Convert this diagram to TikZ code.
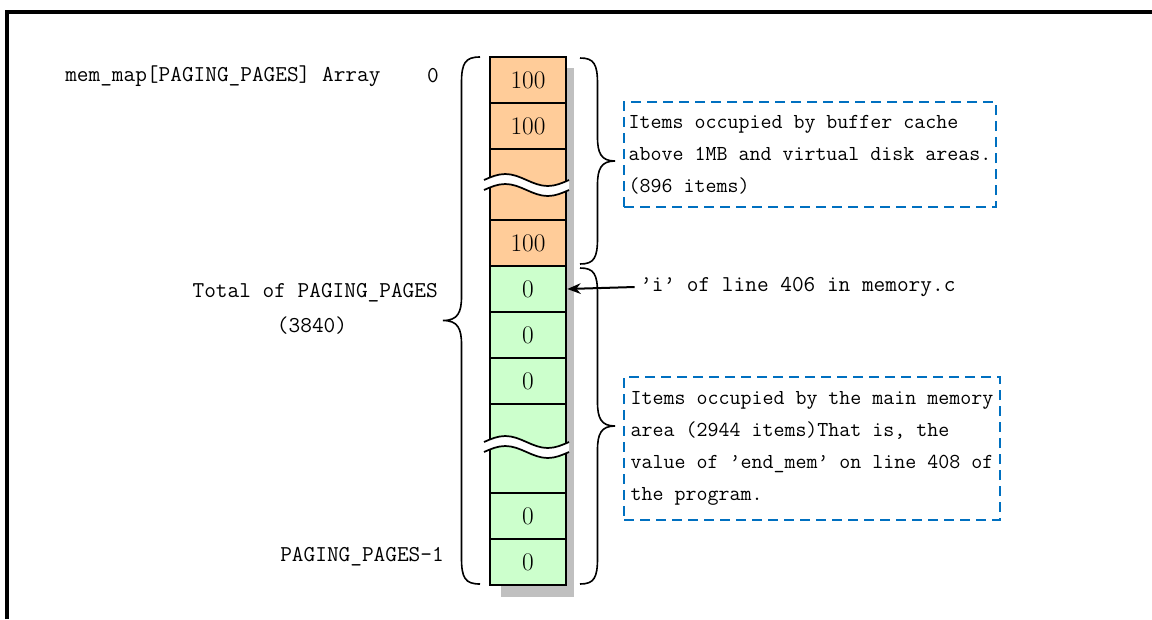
\documentclass[tikz,border=0pt]{standalone}
\usepackage{tikz}
\usepackage{xcolor}
\usetikzlibrary{arrows.meta}

\definecolor{cellorange}{HTML}{FFCC99}
\definecolor{cellgreen}{HTML}{CCFFCC}
\definecolor{boxblue}{HTML}{0070C0}
\definecolor{shadowgray}{HTML}{C0C0C0}

% curly brace: ends at x=#1, from y=#2 to y=#3, tip offset #4
\newcommand{\membrace}[4]{%
  \draw[line width=1.2pt] (#1,#2) .. controls ({#1+0.8*(#4)/2},#2) and ({#1+(#4)/2},{#2+6}) .. ({#1+(#4)/2},{#2+26})
    -- ({#1+(#4)/2},{(#2+#3)/2-24}) .. controls ({#1+(#4)/2},{(#2+#3)/2-8}) and ({#1+0.6*(#4)},{(#2+#3)/2}) .. ({#1+(#4)},{(#2+#3)/2})
    .. controls ({#1+0.6*(#4)},{(#2+#3)/2}) and ({#1+(#4)/2},{(#2+#3)/2+8}) .. ({#1+(#4)/2},{(#2+#3)/2+24})
    -- ({#1+(#4)/2},{#3-26}) .. controls ({#1+(#4)/2},{#3-6}) and ({#1+0.8*(#4)/2},#3) .. (#1,#3);}
% wavy break across the column, centred at y=#1
\newcommand{\cellbreak}[1]{%
  \fill[white] (484,{#1-5}) sin (505.25,{#1-11}) cos (526.5,{#1-5}) sin (547.75,{#1+1}) cos (569,{#1-5})
    -- (569,{#1+5}) sin (547.75,{#1+11}) cos (526.5,{#1+5}) sin (505.25,{#1-1}) cos (484,{#1+5}) -- cycle;
  \draw[line width=1.3pt] (484,{#1-5}) sin (505.25,{#1-11}) cos (526.5,{#1-5}) sin (547.75,{#1+1}) cos (569,{#1-5});
  \draw[line width=1.3pt] (484,{#1+5}) sin (505.25,{#1-1}) cos (526.5,{#1+5}) sin (547.75,{#1+11}) cos (569,{#1+5});}

\begin{document}
\begin{tikzpicture}[x=0.75pt,y=-0.75pt,
  cell/.style={draw,line width=1.4pt,minimum width=57pt,minimum height=34.5pt,inner sep=0pt,outer sep=0pt,anchor=north,font=\fontsize{19}{22}\selectfont},
  orangecell/.style={cell,fill=cellorange},
  greencell/.style={cell,fill=cellgreen},
  lbltext/.style={font=\ttfamily\fontsize{17}{24}\selectfont,inner sep=0pt},
  notebox/.style={draw=boxblue,line width=1.3pt,dash pattern=on 7.5pt off 4.5pt,align=left,inner sep=2.25pt,font=\ttfamily\fontsize{16}{24}\selectfont}]
  \useasboundingbox (0,0) rectangle (1152,619);
  % frame
  \draw[line width=2.4pt] (7,619) -- (7,12) -- (1152,12);
  % array column
  \fill[shadowgray] (501,68) rectangle (574,597);
  \node[orangecell] (o1) at (528,57) {100}; \node[orangecell] (o2) at (o1.south) {100};
  \node[orangecell,minimum height=53.25pt] (ob) at (o2.south) {}; \node[orangecell] (o3) at (ob.south) {100};
  \node[greencell] (g1) at (o3.south) {0}; \node[greencell] (g2) at (g1.south) {0}; \node[greencell] (g3) at (g2.south) {0};
  \node[greencell,minimum height=66.75pt] (gb) at (g3.south) {};
  \node[greencell] (g4) at (gb.south) {0}; \node[greencell] (g5) at (g4.south) {0};
  \cellbreak{185} \cellbreak{447}
  % braces
  \membrace{480}{57}{584}{-37}
  \membrace{580}{58}{264}{35}
  \membrace{580}{268}{584}{35}
  % left labels
  \node[lbltext,anchor=west] (arrname) at (65,76) {mem\_map[PAGING\_PAGES] Array};
  \node[lbltext] (first) at (433,76) {0};
  \node[lbltext,anchor=east] (total) at (438,293) {Total of PAGING\_PAGES};
  \node[lbltext] (count) at (312,326) {(3840)};
  \node[lbltext,anchor=east] (last) at (444,557) {PAGING\_PAGES-1};
  % pointer
  \node[lbltext,anchor=west] (ivar) at (640,287) {’i’ of line 406 in memory.c};
  \draw[line width=1.5pt,-{Stealth[length=10pt,width=8pt]}] ([xshift=-4pt]ivar.west) -- ([xshift=1pt]g1.east);
  % notes
  \node[notebox,minimum width=279pt,minimum height=78.75pt] (bufnote) at (810,154.5) {Items occupied by buffer cache\\above 1MB and virtual disk areas.\\(896 items)};
  \node[notebox,minimum width=282pt,minimum height=107.25pt] (mainnote) at (812,448.5) {Items occupied by the main memory\\area (2944 items)That is, the\\value of ’end\_mem’ on line 408 of\\the program.};
\end{tikzpicture}
\end{document}
